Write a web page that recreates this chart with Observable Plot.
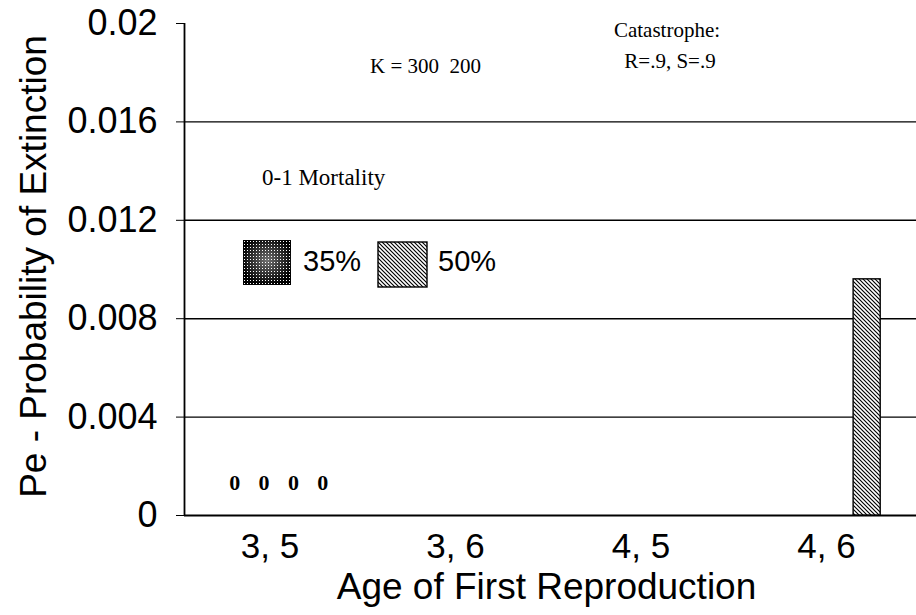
<!DOCTYPE html>
<html>
<head>
<meta charset="utf-8">
<script src="https://cdn.jsdelivr.net/npm/d3@7"></script>
<script src="https://cdn.jsdelivr.net/npm/@observablehq/plot@0.6"></script>
<style>
  html, body { margin: 0; padding: 0; background: #fff; }
  #wrap { position: relative; width: 916px; height: 615px; overflow: hidden; }
  #wrap svg.plotsvg g[aria-label^="x-axis"] text { font-size: 35px; }
  #wrap svg.plotsvg g[aria-label^="y-axis"] text { font-size: 36px; }
  #overlay { position: absolute; left: 0; top: 0; }
</style>
</head>
<body>
<svg width="0" height="0" style="position:absolute">
  <defs>
    <pattern id="hatch50" patternUnits="userSpaceOnUse" width="4" height="4">
      <rect width="4" height="4" fill="#fff"/>
      <path d="M0,0 L4,4 M-1,3 L1,5 M3,-1 L5,1" stroke="#000" stroke-width="1.15"/>
    </pattern>
    <pattern id="stipple35" patternUnits="userSpaceOnUse" width="3" height="3">
      <rect width="3" height="3" fill="#000"/>
      <rect x="1" y="1" width="1" height="1" fill="#fff"/>
    </pattern>
    <radialGradient id="glow35" cx="0.5" cy="0.45" r="0.55">
      <stop offset="0" stop-color="#fff" stop-opacity="0.45"/>
      <stop offset="1" stop-color="#fff" stop-opacity="0"/>
    </radialGradient>
  </defs>
</svg>
<div id="wrap"></div>
<script>
// ---- data ----
const categories = ["3, 5", "3, 6", "4, 5", "4, 6"];
const series = ["35%", "50%"];
const mortality35 = [0, 0, 0, 0];
const mortality50 = [0, 0, 0, 0.0096];
const zeroLabels = ["0", "0", "0", "0"];
const yTicks = [0, 0.004, 0.008, 0.012, 0.016, 0.02];
const yTickLabels = ["0", "0.004", "0.008", "0.012", "0.016", "0.02"];
const gridValues = [0.004, 0.008, 0.012, 0.016];
const yLabel = "Pe - Probability of Extinction";
const xLabel = "Age of First Reproduction";
const legendLabels = ["35%", "50%"];

// ---- layout ----
const xDomain = [-0.461, 3.485];
const yDomain = [0, 0.02];
const barWidth = 0.146;
const slotOffset = {"35%": 0, "50%": 0.146};
const patternFill = {"35%": "url(#stipple35)", "50%": "url(#hatch50)"};
const zeroStart = -0.19, zeroStep = 0.158;

const rows = categories.flatMap((c, i) => [
  {cat: c, idx: i, series: series[0], value: mortality35[i]},
  {cat: c, idx: i, series: series[1], value: mortality50[i]}
]);

const chart = Plot.plot({
  width: 916,
  height: 615,
  marginLeft: 184,
  marginRight: 0,
  marginTop: 23,
  marginBottom: 100,
  style: {fontFamily: '"Liberation Sans", Arial, sans-serif', color: "#000", background: "transparent", overflow: "visible"},
  x: {type: "linear", domain: xDomain, ticks: categories.map((c, i) => i),
      tickFormat: i => categories[i] ?? "", tickSize: 0, tickPadding: 18, label: null},
  y: {domain: yDomain, ticks: yTicks,
      tickFormat: d => yTickLabels[yTicks.indexOf(d)] ?? "", tickSize: 8, tickPadding: 19, label: null},
  color: {type: "identity"},
  marks: [
    Plot.ruleY(gridValues, {stroke: "#000", strokeWidth: 1.4}),
    Plot.ruleY([0], {stroke: "#000", strokeWidth: 1.8}),
    Plot.ruleX([xDomain[0]], {y1: yDomain[0], y2: yDomain[1], stroke: "#000", strokeWidth: 1.8}),
    Plot.rectY(rows.filter(d => d.value > 0), {
      x1: d => d.idx + slotOffset[d.series],
      x2: d => d.idx + slotOffset[d.series] + barWidth,
      y1: 0, y2: "value",
      fill: d => patternFill[d.series],
      stroke: "#000", strokeWidth: 1.4
    }),
    Plot.text(zeroLabels, {
      x: (d, k) => 0 + zeroStart + k * zeroStep,
      text: d => d, frameAnchor: "bottom", dy: -26,
      fontFamily: '"Liberation Serif", "Times New Roman", serif', fontWeight: "bold", fontSize: 22
    }),
    Plot.text([yLabel], {text: d => d, frameAnchor: "left", textAnchor: "middle", dx: -150, dy: -3, rotate: -90, fontSize: 37}),
    Plot.text([xLabel], {text: d => d, frameAnchor: "bottom", textAnchor: "middle", dx: -4, dy: 83, lineAnchor: "bottom", fontSize: 37})
  ]
});
chart.classList.add("plotsvg");
document.getElementById("wrap").appendChild(chart);

// ---- annotations & legend overlay ----
const ov = d3.select("#wrap").append("svg").attr("id", "overlay")
  .attr("width", 916).attr("height", 615);
const serif = '"Liberation Serif", "Times New Roman", serif';
const sans = '"Liberation Sans", Arial, sans-serif';
ov.append("text").attr("x", 370).attr("y", 73).attr("font-family", serif).attr("font-size", 21)
  .style("white-space", "pre").attr("xml:space", "preserve").text("K = 300  200");
ov.append("text").attr("x", 667).attr("y", 37).attr("text-anchor", "middle").attr("font-family", serif).attr("font-size", 21).text("Catastrophe:");
ov.append("text").attr("x", 670).attr("y", 68).attr("text-anchor", "middle").attr("font-family", serif).attr("font-size", 21).text("R=.9, S=.9");
ov.append("text").attr("x", 262).attr("y", 185).attr("font-family", serif).attr("font-size", 23).text("0-1 Mortality");

// legend
const sw = [{x: 243, y: 240, w: 48, h: 45}, {x: 378, y: 242, w: 49, h: 45}];
ov.append("rect").attr("x", sw[0].x).attr("y", sw[0].y).attr("width", sw[0].w).attr("height", sw[0].h).attr("fill", patternFill["35%"]);
ov.append("rect").attr("x", sw[0].x).attr("y", sw[0].y).attr("width", sw[0].w).attr("height", sw[0].h).attr("fill", "url(#glow35)");
ov.append("rect").attr("x", sw[1].x).attr("y", sw[1].y).attr("width", sw[1].w).attr("height", sw[1].h).attr("fill", patternFill["50%"]).attr("stroke", "#000").attr("stroke-width", 1.4);
ov.append("text").attr("x", 303).attr("y", 271).attr("font-family", sans).attr("font-size", 29).text(legendLabels[0]);
ov.append("text").attr("x", 438).attr("y", 271).attr("font-family", sans).attr("font-size", 29).text(legendLabels[1]);
</script>
</body>
</html>
